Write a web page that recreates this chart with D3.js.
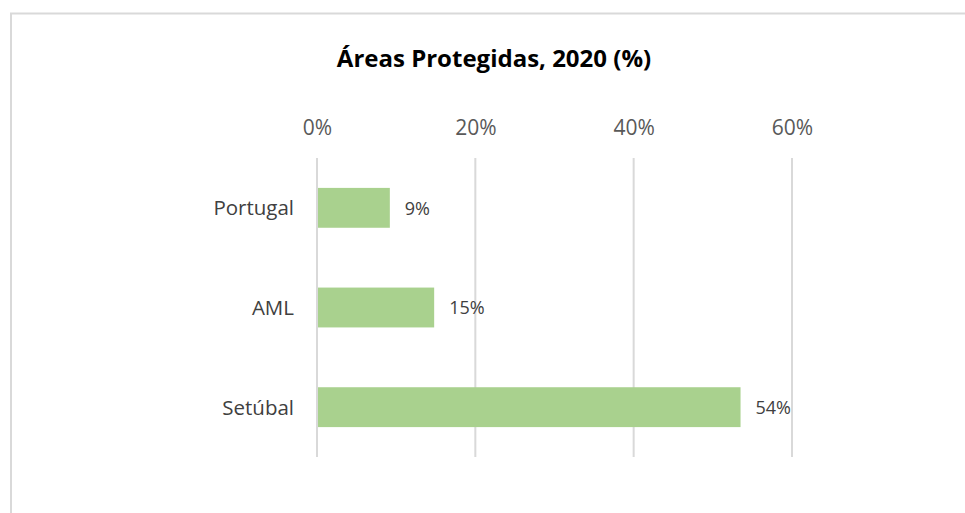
<!DOCTYPE html>
<html>
    <head>
        <meta charset="utf-8">
        <title>Áreas Protegidas, 2020 (%)</title>
        <script src="https://d3js.org/d3.v7.min.js"></script>
        <style type="text/css">
            body { margin: 0; background: #fff; }
            #chart { display: block; }
        </style>
    </head>
    <body>
        <svg id="chart" width="965" height="513"></svg>
        <script>
            // dados
            var categories = ["Portugal", "AML", "Setúbal"];
            var values = [0.092, 0.148, 0.535];
            var labels = ["9%", "15%", "54%"];
            var tickValues = [0, 0.2, 0.4, 0.6];

            var font = "'Open Sans', 'Noto Sans', sans-serif";
            var svg = d3.select("#chart");

            // moldura do gráfico (cortada à direita e em baixo)
            svg.append("rect")
                .attr("x", 11).attr("y", 13.5)
                .attr("width", 1100).attr("height", 700)
                .attr("fill", "#fff")
                .attr("stroke", "#d9d9d9")
                .attr("stroke-width", 2);

            svg.append("text")
                .attr("x", 494).attr("y", 67)
                .attr("text-anchor", "middle")
                .style("font", "bold 24px " + font)
                .attr("fill", "#000")
                .text("Áreas Protegidas, 2020 (%)");

            var x = d3.scaleLinear().domain([0, 0.6]).range([317, 792]);
            var y = d3.scaleBand().domain(categories).range([158, 457]).paddingInner(0.6).paddingOuter(0.3);

            // eixo superior
            var xAxis = svg.append("g")
                .attr("transform", "translate(0,135)")
                .call(d3.axisTop(x).tickValues(tickValues).tickFormat(d3.format(".0%")).tickSize(0).tickPadding(0));
            xAxis.select(".domain").remove();
            xAxis.selectAll("text")
                .attr("y", 0).attr("dy", 0)
                .style("font", "21px " + font)
                .attr("fill", "#595959");

            // linhas de grelha
            svg.append("g").selectAll("line")
                .data(tickValues)
                .join("line")
                    .attr("x1", d => x(d)).attr("x2", d => x(d))
                    .attr("y1", 158).attr("y2", 457)
                    .attr("stroke", "#d9d9d9")
                    .attr("stroke-width", 2);

            // eixo das categorias
            var yAxis = svg.append("g")
                .attr("transform", "translate(294,0)")
                .call(d3.axisLeft(y).tickSize(0).tickPadding(0));
            yAxis.select(".domain").remove();
            yAxis.selectAll("text")
                .attr("dy", "0.36em")
                .style("font", "20.5px " + font)
                .attr("fill", "#404040");

            // barras
            svg.append("g").selectAll("rect")
                .data(values)
                .join("rect")
                    .attr("x", x(0) + 1)
                    .attr("y", (d, i) => y(categories[i]))
                    .attr("width", d => x(d) - x(0) - 1)
                    .attr("height", y.bandwidth())
                    .attr("fill", "#a9d18e");

            // rótulos de dados
            svg.append("g").selectAll("text")
                .data(values)
                .join("text")
                    .attr("x", d => x(d) + 15)
                    .attr("y", (d, i) => y(categories[i]) + y.bandwidth() / 2)
                    .attr("dy", "0.38em")
                    .style("font", "18px " + font)
                    .attr("fill", "#404040")
                    .text((d, i) => labels[i]);
        </script>
    </body>
</html>
